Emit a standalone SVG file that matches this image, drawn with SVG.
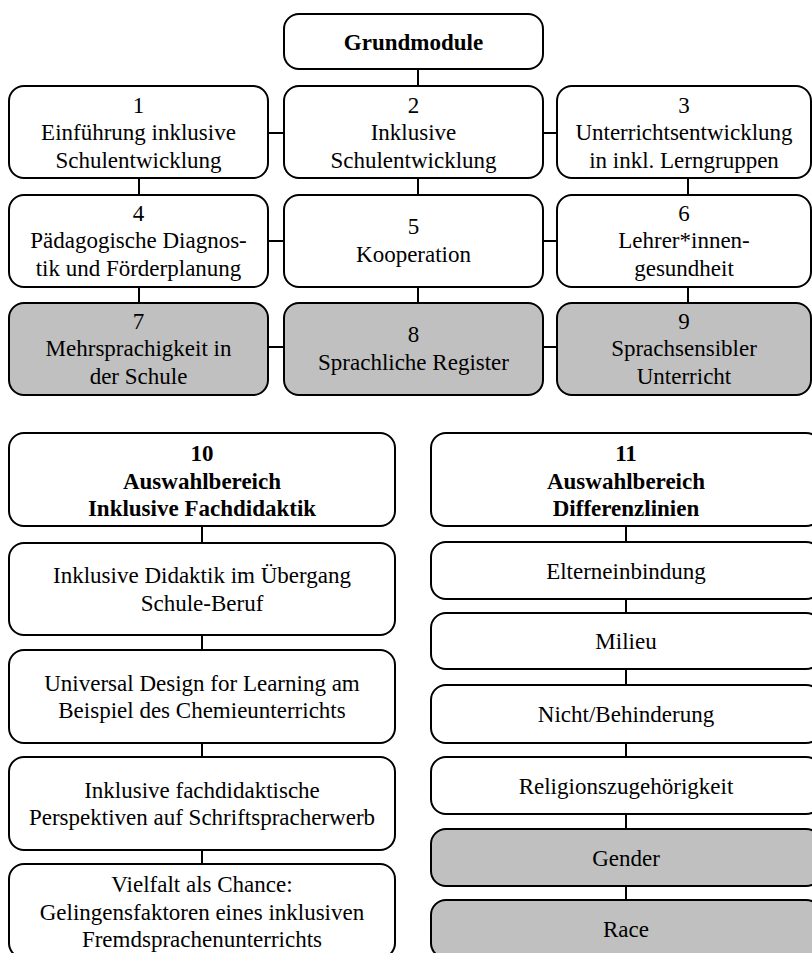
<svg xmlns="http://www.w3.org/2000/svg" width="812" height="953" viewBox="0 0 812 953">
<style>
.box{fill:#ffffff;stroke:#000000;stroke-width:2}
.gray{fill:#c0c0c0;stroke:#000000;stroke-width:2}
.t{font-family:"Liberation Serif","Times New Roman",serif;font-size:23px;fill:#000000;text-anchor:middle}
.b{font-weight:bold}
#connectors line{stroke:#000000;stroke-width:2}
</style>
<rect width="812" height="953" fill="#ffffff"/>
<g id="connectors">
<line x1="418" y1="69" x2="418" y2="86"/>
<line x1="139" y1="178" x2="139" y2="195"/>
<line x1="418" y1="178" x2="418" y2="195"/>
<line x1="688" y1="178" x2="688" y2="195"/>
<line x1="139" y1="287" x2="139" y2="303"/>
<line x1="418" y1="287" x2="418" y2="303"/>
<line x1="688" y1="287" x2="688" y2="303"/>
<line x1="268" y1="133" x2="283" y2="133"/>
<line x1="543" y1="133" x2="557" y2="133"/>
<line x1="268" y1="241" x2="283" y2="241"/>
<line x1="543" y1="241" x2="557" y2="241"/>
<line x1="268" y1="347" x2="283" y2="347"/>
<line x1="543" y1="347" x2="557" y2="347"/>
<line x1="202" y1="526" x2="202" y2="543"/>
<line x1="202" y1="635" x2="202" y2="650"/>
<line x1="202" y1="743" x2="202" y2="757"/>
<line x1="202" y1="850" x2="202" y2="864"/>
<line x1="626" y1="526" x2="626" y2="542"/>
<line x1="626" y1="599" x2="626" y2="613"/>
<line x1="626" y1="669" x2="626" y2="685"/>
<line x1="626" y1="743" x2="626" y2="757"/>
<line x1="626" y1="814" x2="626" y2="829"/>
<line x1="626" y1="886" x2="626" y2="900"/>
</g>
<g id="grundmodule">
<rect class="box" x="284" y="14" width="259" height="55" rx="15"/>
<text class="t b" x="413.5" y="49.5">Grundmodule</text>
</g>
<g id="m1">
<rect class="box" x="9" y="86" width="259" height="92" rx="15"/>
<text class="t" x="138.5" y="112.5">1</text>
<text class="t" x="138.5" y="140">Einführung inklusive</text>
<text class="t" x="138.5" y="167.5">Schulentwicklung</text>
</g>
<g id="m2">
<rect class="box" x="284" y="86" width="259" height="92" rx="15"/>
<text class="t" x="413.5" y="112.5">2</text>
<text class="t" x="413.5" y="140">Inklusive</text>
<text class="t" x="413.5" y="167.5">Schulentwicklung</text>
</g>
<g id="m3">
<rect class="box" x="557" y="86" width="254" height="92" rx="15"/>
<text class="t" x="684" y="112.5">3</text>
<text class="t" x="684" y="140">Unterrichtsentwicklung</text>
<text class="t" x="684" y="167.5">in inkl. Lerngruppen</text>
</g>
<g id="m4">
<rect class="box" x="9" y="195" width="259" height="92" rx="15"/>
<text class="t" x="138.5" y="220.5">4</text>
<text class="t" x="138.5" y="248">Pädagogische Diagnos-</text>
<text class="t" x="138.5" y="275.5">tik und Förderplanung</text>
</g>
<g id="m5">
<rect class="box" x="284" y="195" width="259" height="92" rx="15"/>
<text class="t" x="413.5" y="234.25">5</text>
<text class="t" x="413.5" y="261.75">Kooperation</text>
</g>
<g id="m6">
<rect class="box" x="557" y="195" width="254" height="92" rx="15"/>
<text class="t" x="684" y="220.5">6</text>
<text class="t" x="684" y="248">Lehrer*innen-</text>
<text class="t" x="684" y="275.5">gesundheit</text>
</g>
<g id="m7">
<rect class="gray" x="9" y="303" width="259" height="92" rx="15"/>
<text class="t" x="138.5" y="328.5">7</text>
<text class="t" x="138.5" y="356">Mehrsprachigkeit in</text>
<text class="t" x="138.5" y="383.5">der Schule</text>
</g>
<g id="m8">
<rect class="gray" x="284" y="303" width="259" height="92" rx="15"/>
<text class="t" x="413.5" y="342.25">8</text>
<text class="t" x="413.5" y="369.75">Sprachliche Register</text>
</g>
<g id="m9">
<rect class="gray" x="557" y="303" width="254" height="92" rx="15"/>
<text class="t" x="684" y="328.5">9</text>
<text class="t" x="684" y="356">Sprachsensibler</text>
<text class="t" x="684" y="383.5">Unterricht</text>
</g>
<g id="m10">
<rect class="box" x="9" y="433" width="386" height="93" rx="15"/>
<text class="t b" x="202" y="461">10</text>
<text class="t b" x="202" y="488.5">Auswahlbereich</text>
<text class="t b" x="202" y="516">Inklusive Fachdidaktik</text>
</g>
<g id="f1">
<rect class="box" x="9" y="543" width="386" height="92" rx="15"/>
<text class="t" x="202" y="583.25">Inklusive Didaktik im Übergang</text>
<text class="t" x="202" y="610.75">Schule-Beruf</text>
</g>
<g id="f2">
<rect class="box" x="9" y="650" width="386" height="93" rx="15"/>
<text class="t" x="202" y="690.75">Universal Design for Learning am</text>
<text class="t" x="202" y="718.25">Beispiel des Chemieunterrichts</text>
</g>
<g id="f3">
<rect class="box" x="9" y="757" width="386" height="93" rx="15"/>
<text class="t" x="202" y="797.75">Inklusive fachdidaktische</text>
<text class="t" x="202" y="825.25">Perspektiven auf Schriftspracherwerb</text>
</g>
<g id="f4">
<rect class="box" x="9" y="864" width="386" height="94" rx="15"/>
<text class="t" x="202" y="892">Vielfalt als Chance:</text>
<text class="t" x="202" y="919.5">Gelingensfaktoren eines inklusiven</text>
<text class="t" x="202" y="947">Fremdsprachenunterrichts</text>
</g>
<g id="m11">
<rect class="box" x="431" y="433" width="390" height="93" rx="15"/>
<text class="t b" x="626" y="461">11</text>
<text class="t b" x="626" y="488.5">Auswahlbereich</text>
<text class="t b" x="626" y="516">Differenzlinien</text>
</g>
<g id="d1">
<rect class="box" x="431" y="542" width="390" height="57" rx="15"/>
<text class="t" x="626" y="578.5">Elterneinbindung</text>
</g>
<g id="d2">
<rect class="box" x="431" y="613" width="390" height="56" rx="15"/>
<text class="t" x="626" y="649">Milieu</text>
</g>
<g id="d3">
<rect class="box" x="431" y="685" width="390" height="58" rx="15"/>
<text class="t" x="626" y="722">Nicht/Behinderung</text>
</g>
<g id="d4">
<rect class="box" x="431" y="757" width="390" height="57" rx="15"/>
<text class="t" x="626" y="793.5">Religionszugehörigkeit</text>
</g>
<g id="d5">
<rect class="gray" x="431" y="829" width="390" height="57" rx="15"/>
<text class="t" x="626" y="865.5">Gender</text>
</g>
<g id="d6">
<rect class="gray" x="431" y="900" width="390" height="58" rx="15"/>
<text class="t" x="626" y="937">Race</text>
</g>
</svg>
